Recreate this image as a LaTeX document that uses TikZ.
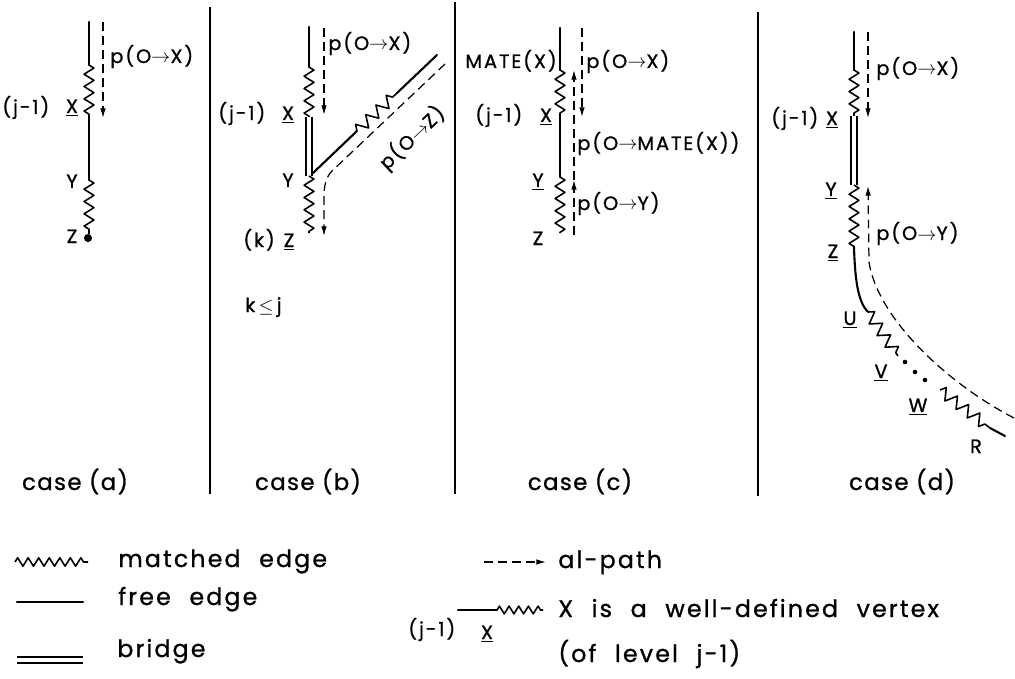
\documentclass[tikz,border=0pt]{standalone}
\usepackage{fontspec}
\setmainfont{Poppins}
\newfontfamily\lfont[LetterSpace=10, BoldFont={Poppins}, BoldFeatures={FakeBold=1}]{Poppins}
\newfontfamily\cfont[LetterSpace=6, BoldFont={Poppins}, BoldFeatures={FakeBold=1}]{Poppins}
\newfontfamily\gfont[LetterSpace=9, WordSpace=2.2, BoldFont={Poppins}, BoldFeatures={FakeBold=1}]{Poppins}
\usetikzlibrary{decorations.pathmorphing,arrows.meta}
\tikzset{
  free/.style={line width=1.2pt, line cap=round},
  matched/.style={line width=0.9pt, line join=round, decorate,
     decoration={zigzag, segment length=7pt, amplitude=2.8pt}},
  bigmatched/.style={line width=0.9pt, line join=round, decorate,
     decoration={zigzag, segment length=8pt, amplitude=3.3pt}},
  bridge/.style={line width=0.9pt, double, double distance=2.4pt},
  alpath/.style={line width=0.7pt, dash pattern=on 5pt off 3pt},
  tip/.style={-{Latex[length=5.5pt,width=3.2pt]}},
  divider/.style={line width=0.7pt},
  lbl/.style={font=\fontsize{11}{13}\lfont\bfseries, inner sep=0pt},
  casel/.style={font=\fontsize{13}{15}\cfont\bfseries, inner sep=0pt, anchor=base},
  leg/.style={font=\fontsize{13.5}{15}\gfont\bfseries, inner sep=0pt, anchor=base west},
}
\begin{document}
\begin{tikzpicture}[x=0.02cm, y=-0.02cm]
\useasboundingbox (0,0) rectangle (1015,679);
% dividers
\coordinate (d1t) at (210,7);   \coordinate (d1b) at (210,494);
\coordinate (d2t) at (455,2);   \coordinate (d2b) at (455,494);
\coordinate (d3t) at (758,12);  \coordinate (d3b) at (758,496);
\draw[divider] (d1t) -- (d1b);
\draw[divider] (d2t) -- (d2b);
\draw[divider] (d3t) -- (d3b);

% ---------- case (a)
\coordinate (a0) at (89,22);
\coordinate (a1) at (89,65);
\coordinate (aX) at (89,115);
\coordinate (aY) at (89,180);
\coordinate (aZ) at (89,234);
\draw[free] (a0) -- (a1);
\draw[matched] (a1) -- (aX);
\draw[free] (aX) -- (aY);
\draw[matched] (aY) -- (aZ);
\node[circle, fill, inner sep=0pt, minimum size=4.6pt] (aZdot) at (88,238) {};
\coordinate (ap0) at (103,22);
\coordinate (ap1) at (103,118);
\draw[alpath, tip] (ap0) -- (ap1);
\node[lbl, anchor=base west] (apl) at (110,63) {p(O$\rightarrow$X)};
\node[lbl, anchor=base west] (aj) at (2,114) {(j-1)};
\node[lbl, anchor=base] (aXl) at (72,113) {\underline{X}};
\node[lbl, anchor=base] (aYl) at (72,188) {Y};
\node[lbl, anchor=base] (aZl) at (72,243) {Z};
\node[casel] (ca) at (75,490) {case (a)};

% ---------- case (b)
\coordinate (b0) at (309,27);
\coordinate (b1) at (309,67);
\coordinate (bX) at (309,117);
\coordinate (bY) at (309,176);
\coordinate (bZ) at (309,233);
\coordinate (bd0) at (313,173);
\coordinate (bd1) at (357,131);
\coordinate (bd2) at (397,93);
\coordinate (bd3) at (437,55);
\draw[free] (b0) -- (b1);
\draw[matched] (b1) -- (bX);
\draw[bridge] (bX) -- (bY);
\draw[matched] (bY) -- (bZ);
\draw[free] (bd0) -- (bd1);
\draw[bigmatched] (bd1) -- (bd2);
\draw[free] (bd2) -- (bd3);
\coordinate (bp0) at (324,28);
\coordinate (bp1) at (324,115);
\draw[alpath, tip] (bp0) -- (bp1);
\coordinate (bq0) at (445,64);
\coordinate (bq1) at (332,171);
\coordinate (bq2) at (324,196);
\coordinate (bq3) at (324,236);
\draw[alpath, tip] (bq0) -- (bq1) .. controls (326,177) and (324,186) .. (bq2) -- (bq3);
\node[lbl, anchor=base west] (bpl) at (328,50) {p(O$\rightarrow$X)};
\node[lbl, rotate=43.6] (bql) at (412,138) {p(O$\rightarrow$Z)};
\node[lbl, anchor=base west] (bj) at (218,120) {(j-1)};
\node[lbl, anchor=base] (bXl) at (288,120) {\underline{X}};
\node[lbl, anchor=base] (bYl) at (288,187) {Y};
\node[lbl, anchor=base west] (bk) at (243,247) {(k)};
\node[lbl, anchor=base] (bZl) at (289,247) {\underline{Z}};
\node[lbl, anchor=base west] (bkj) at (245,312) {k\,$\leq$\,j};
\node[casel] (cb) at (308,490) {case (b)};

% ---------- case (c)
\coordinate (c0) at (560,28);
\coordinate (c1) at (560,70);
\coordinate (cX) at (560,115);
\coordinate (cY) at (560,177);
\coordinate (cZ) at (560,233);
\draw[free] (c0) -- (c1);
\draw[matched] (c1) -- (cX);
\draw[free] (cX) -- (cY);
\draw[matched] (cY) -- (cZ);
\coordinate (cp0) at (582,28);
\coordinate (cp1) at (582,117);
\draw[alpath, tip] (cp0) -- (cp1);
\coordinate (cm0) at (574,235);
\coordinate (cm1) at (574,180);
\coordinate (cm2) at (574,70);
\draw[alpath, tip] (cm0) -- (cm1);
\draw[alpath, tip] (cm1) -- (cm2);
\node[lbl, anchor=base east] (cmate) at (557,68) {MATE(X)};
\node[lbl, anchor=base west] (cpl) at (586,68) {p(O$\rightarrow$X)};
\node[lbl, anchor=base west] (cj) at (475,122) {(j-1)};
\node[lbl, anchor=base] (cXl) at (546,122) {\underline{X}};
\node[lbl, anchor=base west] (cml) at (577,150) {p(O$\rightarrow$MATE(X))};
\node[lbl, anchor=base] (cYl) at (538,187) {\underline{Y}};
\node[lbl, anchor=base west] (cyl) at (577,210) {p(O$\rightarrow$Y)};
\node[lbl, anchor=base] (cZl) at (538,245) {Z};
\node[casel] (cc) at (580,490) {case (c)};

% ---------- case (d)
\coordinate (e0) at (854,32);
\coordinate (e1) at (854,70);
\coordinate (eX) at (854,116);
\coordinate (eY) at (854,185);
\coordinate (eZ) at (854,247);
\coordinate (eU) at (868,312);
\coordinate (eV) at (898,356);
\coordinate (eW) at (940,390);
\coordinate (eW2) at (990,428);
\coordinate (eR) at (1005,436);
\draw[free] (e0) -- (e1);
\draw[matched] (e1) -- (eX);
\draw[bridge] (eX) -- (eY);
\draw[matched] (eY) -- (eZ);
\draw[free] (eZ) .. controls (855,280) and (858,302) .. (eU);
\draw[bigmatched] (eU) -- (eV);
\draw[bigmatched] (eW) -- (eW2);
\draw[free] (eW2) -- (eR);
\node[circle, fill, inner sep=0pt, minimum size=2.6pt] (dot1) at (905,362) {};
\node[circle, fill, inner sep=0pt, minimum size=2.6pt] (dot2) at (915,372) {};
\node[circle, fill, inner sep=0pt, minimum size=2.6pt] (dot3) at (925,380) {};
\coordinate (ep0) at (868,32);
\coordinate (ep1) at (868,118);
\draw[alpath, tip] (ep0) -- (ep1);
\coordinate (eq0) at (1014,418);
\coordinate (eq1) at (869,262);
\coordinate (eq2) at (868,186);
\draw[alpath, tip] (eq0) .. controls (950,385) and (878,320) .. (eq1) -- (eq2);
\node[lbl, anchor=base west] (epl) at (876,75) {p(O$\rightarrow$X)};
\node[lbl, anchor=base west] (ej) at (771,125) {(j-1)};
\node[lbl, anchor=base] (eXl) at (832,125) {\underline{X}};
\node[lbl, anchor=base] (eYl) at (831,196) {\underline{Y}};
\node[lbl, anchor=base west] (eyl) at (876,240) {p(O$\rightarrow$Y)};
\node[lbl, anchor=base] (eZl) at (833,258) {\underline{Z}};
\node[lbl, anchor=base] (eUl) at (850,325) {\underline{U}};
\node[lbl, anchor=base] (eVl) at (881,378) {\underline{V}};
\node[lbl, anchor=base] (eWl) at (918,412) {\underline{W}};
\node[lbl, anchor=base] (eRl) at (976,453) {R};
\node[casel] (cd) at (902,490) {case (d)};

% ---------- legend
\coordinate (lm0) at (15,562);  \coordinate (lm1) at (88,562);
\draw[matched, decoration={zigzag, segment length=6pt, amplitude=2.4pt}] (lm0) -- (lm1);
\node[leg] (lmt) at (118,567) {matched edge};
\coordinate (lf0) at (17,602);  \coordinate (lf1) at (83,602);
\draw[free] (lf0) -- (lf1);
\node[leg] (lft) at (118,605) {free edge};
\coordinate (lb0) at (17,660);  \coordinate (lb1) at (83,660);
\draw[line width=0.9pt, double, double distance=2.6pt] (lb0) -- (lb1);
\node[leg] (lbt) at (117,657) {bridge};
\coordinate (la0) at (484,562);  \coordinate (la1) at (546,562);
\draw[alpath, tip] (la0) -- (la1);
\node[leg] (lat) at (558,568) {al-path};
\coordinate (lw0) at (458,610);  \coordinate (lw1) at (497,610);  \coordinate (lw2) at (543,610);
\draw[free] (lw0) -- (lw1);
\draw[matched, decoration={zigzag, segment length=5.5pt, amplitude=2.2pt}] (lw1) -- (lw2);
\node[lbl, anchor=base west] (lwj) at (408,636) {(j-1)};
\node[lbl, anchor=base] (lwX) at (487,639) {\underline{X}};
\node[leg] (lwt) at (558,617) {X is a well-defined vertex};
\node[leg] (lwt2) at (558,662) {(of level j-1)};
\end{tikzpicture}
\end{document}
